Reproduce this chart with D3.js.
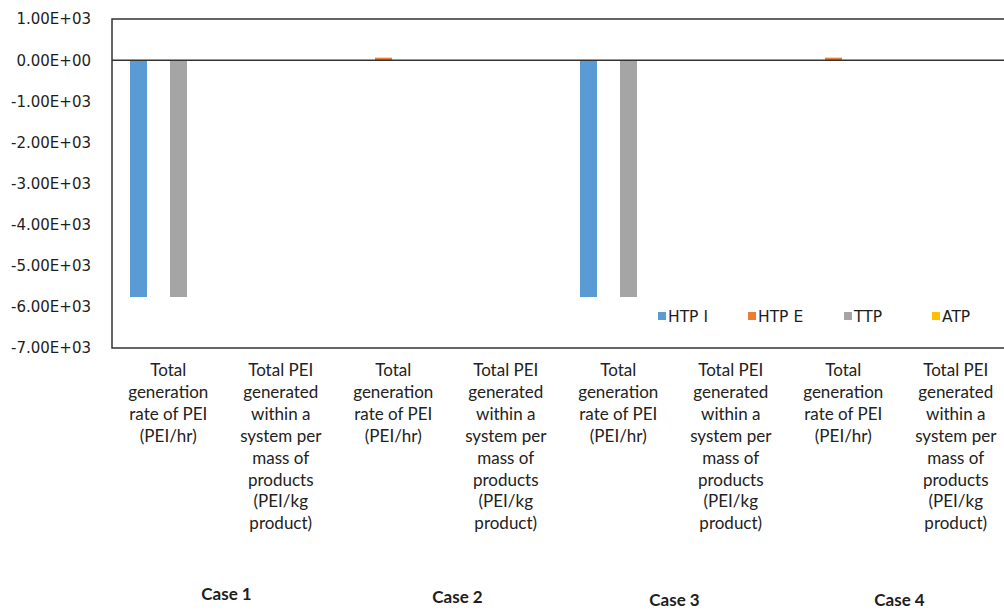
<!DOCTYPE html>
<html lang="en">
<head>
<meta charset="UTF-8">
<title>PEI by case</title>
<script src="https://cdn.jsdelivr.net/npm/d3@7/dist/d3.min.js"></script>
<style>
	body { margin: 0; background: #fff; }
	svg { display: block; }
	.ylab { font-family: "DejaVu Sans", Verdana, sans-serif; font-size: 15px; fill: #1e1e1e; }
	.cat { font-family: Lato, "Open Sans", sans-serif; font-size: 17px; fill: #222; }
	.case { font-family: Lato, "Open Sans", sans-serif; font-size: 17px; font-weight: bold; fill: #1e1e1e; }
	.leg { font-family: "DejaVu Sans", Verdana, sans-serif; font-size: 15.5px; fill: #1e1e1e; }
</style>
</head>
<body>
<script>
// data
var categories = [
	"Total generation rate of PEI (PEI/hr)",
	"Total PEI generated within a system per mass of products (PEI/kg product)",
	"Total generation rate of PEI (PEI/hr)",
	"Total PEI generated within a system per mass of products (PEI/kg product)",
	"Total generation rate of PEI (PEI/hr)",
	"Total PEI generated within a system per mass of products (PEI/kg product)",
	"Total generation rate of PEI (PEI/hr)",
	"Total PEI generated within a system per mass of products (PEI/kg product)"
];
// each label broken the way the chart wraps it
var catLines = {
	"Total generation rate of PEI (PEI/hr)": ["Total", "generation", "rate of PEI", "(PEI/hr)"],
	"Total PEI generated within a system per mass of products (PEI/kg product)":
		["Total PEI", "generated", "within a", "system per", "mass of", "products", "(PEI/kg", "product)"]
};
var cases = ["Case 1", "Case 2", "Case 3", "Case 4"];
var seriesNames = ["HTP I", "HTP E", "TTP", "ATP"];
var htpi = [-5760, 0, 0, 0, -5760, 0, 0, 0];
var htpe = [0, 0, 60, 0, 0, 0, 60, 0];
var ttp  = [-5760, 0, 0, 0, -5760, 0, 0, 0];
var atp  = [0, 0, 0, 0, 0, 0, 0, 0];
var yTicks = [1000, 0, -1000, -2000, -3000, -4000, -5000, -6000, -7000];

var colors = ["#5B9BD5", "#ED7D31", "#A5A5A5", "#FFC000"];
var seriesVals = [htpi, htpe, ttp, atp];

var W = 1004, H = 610;
var pLeft = 112, pRight = 1012, pTop = 19, pBottom = 348;

var svg = d3.select("body").append("svg").attr("width", W).attr("height", H);

var x0 = d3.scaleBand().domain(d3.range(categories.length)).range([pLeft, pRight]);
var x1 = d3.scaleBand().domain(seriesNames).range([18, 95]).paddingInner(0.15);
var y = d3.scaleLinear().domain([-7000, 1000]).range([pBottom, pTop]);

function fmt(v){
	if (v === 0) return "0.00E+00";
	var e = Math.floor(Math.log10(Math.abs(v)));
	var m = v / Math.pow(10, e);
	return m.toFixed(2) + "E" + (e < 0 ? "-" : "+") + (Math.abs(e) < 10 ? "0" : "") + Math.abs(e);
}

// y labels
svg.selectAll(".ylab").data(yTicks).enter().append("text")
	.attr("class", "ylab")
	.attr("x", 91)
	.attr("y", function(d){ return y(d); })
	.attr("dy", ".36em")
	.attr("text-anchor", "end")
	.text(fmt);

// bars
seriesNames.forEach(function(s, si){
	svg.selectAll(".bar" + si).data(seriesVals[si]).enter().append("rect")
		.attr("class", "bar" + si)
		.attr("x", function(d, i){ return x0(i) + x1(s); })
		.attr("width", x1.bandwidth())
		.attr("y", function(d){ return y(Math.max(0, d)); })
		.attr("height", function(d){ return Math.abs(y(d) - y(0)); })
		.attr("fill", colors[si]);
});

// plot frame + zero line
var lines = svg.append("g").attr("stroke", "#333").attr("stroke-width", 1.5).attr("fill", "none");
lines.append("path").attr("d", "M" + pRight + "," + pTop + "H" + pLeft + "V" + pBottom + "H" + pRight);
lines.append("line").attr("x1", pLeft).attr("x2", pRight).attr("y1", y(0)).attr("y2", y(0));

// legend
var legX = [658, 748, 844, 932];
var leg = svg.selectAll(".legi").data(seriesNames).enter().append("g")
	.attr("class", "legi")
	.attr("transform", function(d, i){ return "translate(" + legX[i] + ",316)"; });
leg.append("rect").attr("x", 0).attr("y", -4).attr("width", 8).attr("height", 8)
	.attr("fill", function(d, i){ return colors[i]; });
leg.append("text").attr("class", "leg").attr("x", 10).attr("dy", ".36em").text(function(d){ return d; });

// category labels
categories.forEach(function(c, i){
	var t = svg.append("text").attr("class", "cat")
		.attr("text-anchor", "middle")
		.attr("x", x0(i) + x0.bandwidth() / 2)
		.attr("y", 376);
	catLines[c].forEach(function(line, li){
		t.append("tspan").attr("x", x0(i) + x0.bandwidth() / 2).attr("dy", li === 0 ? 0 : 21.9).text(line);
	});
});

// case labels, one per pair of categories
var caseDx = [2, 8, 0, 0], caseY = [600, 603, 606, 606];
svg.selectAll(".case").data(cases).enter().append("text")
	.attr("class", "case")
	.attr("text-anchor", "middle")
	.attr("x", function(d, i){ return x0(i * 2) + x0.bandwidth() + caseDx[i]; })
	.attr("y", function(d, i){ return caseY[i]; })
	.text(function(d){ return d; });
</script>
</body>
</html>
